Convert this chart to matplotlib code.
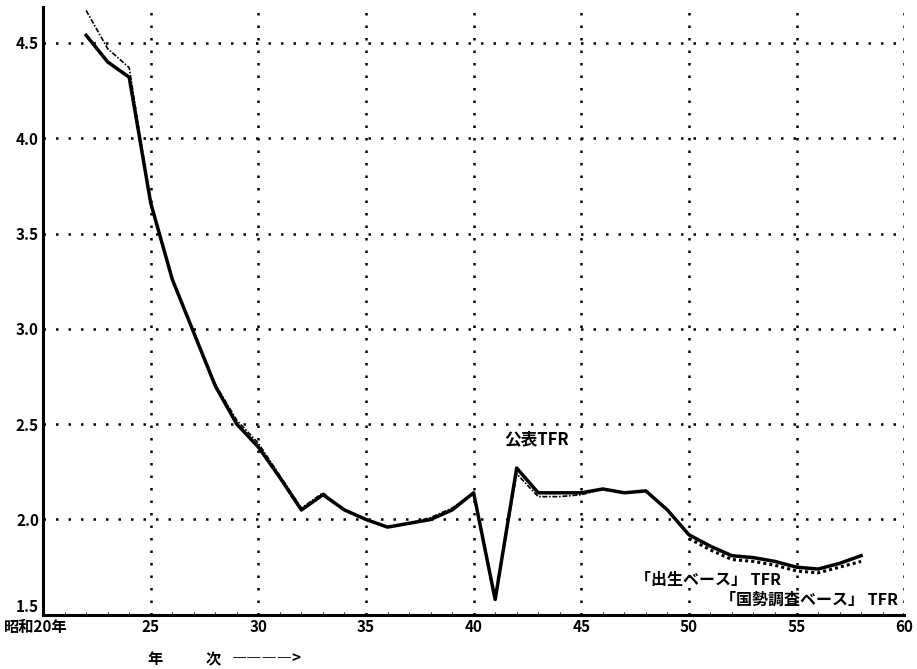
import matplotlib
matplotlib.use("Agg")
import matplotlib.pyplot as plt
import matplotlib.transforms as mtransforms
from matplotlib.ticker import MultipleLocator

plt.rcParams['font.family'] = ['Noto Sans CJK JP', 'DejaVu Sans']

# 昭和の年次
years = list(range(22, 59))
# 公表TFR
official = [4.54, 4.40, 4.32, 3.66, 3.26, 2.98, 2.70, 2.50, 2.38, 2.22, 2.05, 2.13,
            2.05, 2.00, 1.96, 1.98, 2.00, 2.05, 2.14, 1.58, 2.27, 2.14, 2.14, 2.14,
            2.16, 2.14, 2.15, 2.05, 1.92, 1.86, 1.81, 1.80, 1.78, 1.75, 1.74, 1.77, 1.81]
# 「出生ベース」TFR
birth_base = [4.67, 4.47, 4.37, 3.66, 3.26, 2.98, 2.71, 2.52, 2.40, 2.23, 2.06, 2.14,
              2.05, 2.00, 1.96, 1.98, 2.01, 2.06, 2.14, 1.58, 2.24, 2.12, 2.12, 2.13,
              2.16, 2.14, 2.15, 2.05, 1.92, 1.86, 1.81, 1.80, 1.78, 1.75, 1.74, 1.77, 1.81]
# 「国勢調査ベース」TFR
census_years = list(range(50, 59))
census_base = [1.90, 1.84, 1.79, 1.78, 1.76, 1.73, 1.72, 1.75, 1.78]

xticks = [20, 25, 30, 35, 40, 45, 50, 55, 60]
xlabels = ['昭和20年', '25', '30', '35', '40', '45', '50', '55', '60']
yticks = [1.5, 2.0, 2.5, 3.0, 3.5, 4.0, 4.5]

fig = plt.figure(figsize=(9.17, 6.69), dpi=100)
ax = fig.add_axes([0.047, 0.081, 0.939, 0.909])

ax.set_xlim(20, 60)
ax.set_ylim(1.5, 4.69)

dots = (0, (1, 4))
for x in xticks[1:]:
    ax.axvline(x, color='black', lw=1.8, linestyle=dots, zorder=1)
for y in yticks[1:]:
    ax.axhline(y, color='black', lw=1.8, linestyle=dots, zorder=1)

ax.plot(census_years, census_base, color='black', lw=2.2, linestyle=(0, (1, 1)), zorder=2)
ax.plot(years, birth_base, color='black', lw=1.2, linestyle=(0, (3, 1, 1, 1)), zorder=3)
ax.plot(years, official, color='black', lw=2.5, zorder=4)

ax.text(41.4, 2.42, '公表TFR', fontsize=12, fontweight='bold', va='center', ha='left')
ax.text(47.5, 1.68, '「出生ベース」 TFR', fontsize=11.5, fontweight='bold', va='center', ha='left')
ax.text(59.7, 1.58, '「国勢調査ベース」 TFR', fontsize=11.5, fontweight='bold', va='center', ha='right')

ax.set_xticks(xticks)
ax.set_xticklabels(xlabels)
ax.set_yticks(yticks)
ax.set_yticklabels(['%.1f' % v for v in yticks])
ax.xaxis.set_minor_locator(MultipleLocator(1))
ax.tick_params(axis='both', which='major', length=0, labelsize=11, pad=3)
ax.tick_params(axis='x', which='minor', length=2, direction='in')
for lab in ax.get_xticklabels() + ax.get_yticklabels():
    lab.set_fontweight('bold')
ax.get_yticklabels()[0].set_va('bottom')
# 昭和20年 sits a little left of the axis corner
first = ax.get_xticklabels()[0]
first.set_transform(first.get_transform() + mtransforms.ScaledTranslation(-5 / 72, 0, fig.dpi_scale_trans))

for side in ('top', 'right'):
    ax.spines[side].set_visible(False)
for side in ('left', 'bottom'):
    ax.spines[side].set_linewidth(2.2)

fig.text(155 / 917, 1 - 659 / 669, '年', fontsize=11, fontweight='bold', ha='center', va='center')
fig.text(213 / 917, 1 - 659 / 669, '次', fontsize=11, fontweight='bold', ha='center', va='center')
fig.text(232 / 917, 1 - 658 / 669, '――――>', fontsize=11, fontweight='bold', ha='left', va='center')

fig.savefig('out.png', dpi=100)
